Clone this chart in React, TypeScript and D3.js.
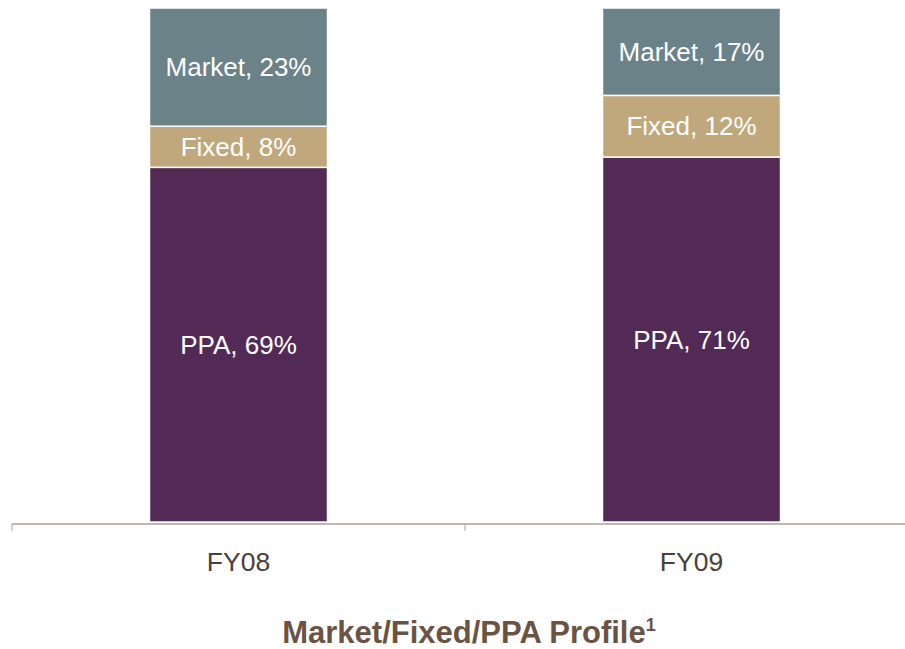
import { useMemo } from 'react'
import * as d3 from 'd3'

// data (percent of each year's total)
const years = ['FY08', 'FY09']
const segments = ['PPA', 'Fixed', 'Market']
const ppa = [69, 71]
const fixed = [8, 12]
const market = [23, 17]

const colors: Record<string, string> = {
  PPA: '#532a55',
  Fixed: '#c0a87c',
  Market: '#6b8289',
}

const W = 905
const H = 649
const FONT = '"Liberation Sans", Arial, sans-serif'

export default function App() {
  const rows = useMemo(
    () => years.map((year, i) => ({ year, PPA: ppa[i], Fixed: fixed[i], Market: market[i] })),
    []
  )

  const stacked = useMemo(() => d3.stack<any>().keys(segments)(rows), [rows])

  const x = d3.scaleBand().domain(years).range([12, 918]).padding(0)
  const y = d3.scaleLinear().domain([0, 100]).range([522, 8])

  const barW = x.bandwidth() * 0.393
  const axisY = y(0) + 2

  return (
    <div style={{ position: 'fixed', left: 0, top: 0 }}>
      <svg width={W} height={H} style={{ display: 'block', background: '#fff' }}>
        {stacked.map(layer => (
          <g key={layer.key}>
            {layer.map((d, i) => {
              const cx = (x(years[i]) ?? 0) + x.bandwidth() / 2
              const top = y(d[1])
              const bottom = y(d[0])
              return (
                <g key={years[i]}>
                  <rect
                    x={cx - barW / 2}
                    y={top}
                    width={barW}
                    height={bottom - top}
                    fill={colors[layer.key]}
                    stroke="#fff"
                    strokeWidth={1.5}
                  />
                  <text
                    x={cx}
                    y={(top + bottom) / 2}
                    dy="0.35em"
                    textAnchor="middle"
                    fill="#fff"
                    fontFamily={FONT}
                    fontSize={26}
                  >
                    {`${layer.key}, ${d[1] - d[0]}%`}
                  </text>
                </g>
              )
            })}
          </g>
        ))}

        {/* category axis */}
        <line x1={12} x2={W} y1={axisY} y2={axisY} stroke="#a8a09b" strokeWidth={1.5} />
        {years.map(yr => x(yr) ?? 0).map(t => (
          <line key={t} x1={t} x2={t} y1={axisY} y2={axisY + 7} stroke="#a8a09b" strokeWidth={1} />
        ))}
        {years.map(yr => (
          <text
            key={yr}
            x={(x(yr) ?? 0) + x.bandwidth() / 2}
            y={571}
            textAnchor="middle"
            fill="#4a4039"
            fontFamily={FONT}
            fontSize={26.5}
          >
            {yr}
          </text>
        ))}

        <text
          x={469}
          y={643}
          textAnchor="middle"
          fill="#6b5344"
          fontFamily={FONT}
          fontSize={31}
          fontWeight="bold"
        >
          Market/Fixed/PPA Profile
          <tspan fontSize={18} dy={-12}>1</tspan>
        </text>
      </svg>
    </div>
  )
}
